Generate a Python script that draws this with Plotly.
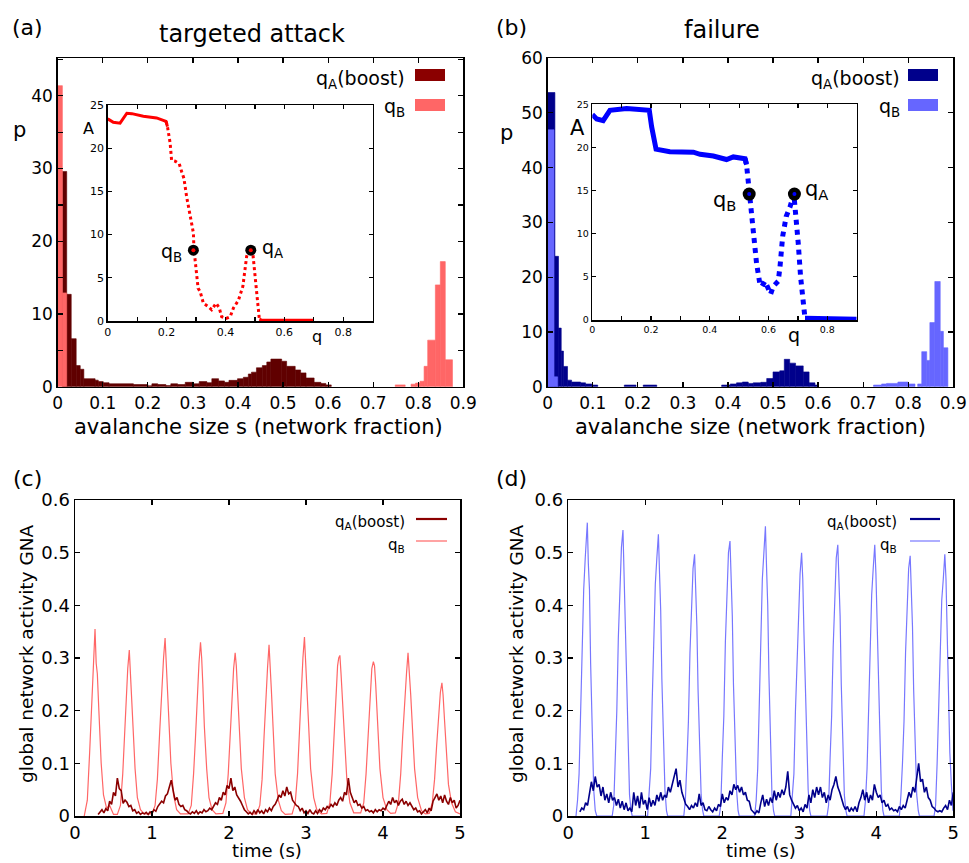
import plotly.graph_objects as go

FONT = "DejaVu Sans"
W, H = 969, 863          # figure = browser window

# ======================= DATA =======================
# (a) targeted attack - avalanche size histograms (bin edges in network fraction, density p)
a_boost_left  = [0.0104, 0.020, 0.030, 0.041, 0.050, 0.058, 0.083, 0.090, 0.101, 0.114, 0.168, 0.200, 0.209, 0.222,
                 0.240, 0.251, 0.266, 0.283, 0.301, 0.314, 0.331, 0.342, 0.357, 0.370, 0.380, 0.399, 0.412, 0.423,
                 0.430, 0.441, 0.454, 0.464, 0.473, 0.497, 0.508, 0.527, 0.539, 0.551, 0.569, 0.584, 0.595]
a_boost_right = [0.020, 0.030, 0.041, 0.050, 0.058, 0.083, 0.090, 0.101, 0.114, 0.168, 0.200, 0.209, 0.222, 0.240,
                 0.251, 0.266, 0.283, 0.301, 0.314, 0.331, 0.342, 0.357, 0.370, 0.380, 0.399, 0.412, 0.423, 0.430,
                 0.441, 0.454, 0.464, 0.473, 0.497, 0.508, 0.527, 0.539, 0.551, 0.569, 0.584, 0.595, 0.607]
a_boost_p     = [29.6, 12.7, 6.6, 2.9, 2.4, 1.1, 0.9, 0.7, 0.55, 0.4, 0.3, 0.12, 0.4, 0.3,
                 0.15, 0.4, 0.3, 0.6, 0.4, 0.7, 0.55, 1.1, 0.8, 0.6, 0.87, 1.1, 1.3, 1.75,
                 2.0, 2.6, 2.9, 3.4, 3.8, 3.5, 2.8, 2.3, 1.9, 1.2, 0.6, 0.45, 0.25]

a_qb_left  = [0.0, 0.0104, 0.749, 0.784, 0.794, 0.804, 0.813, 0.821, 0.838, 0.849, 0.860]
a_qb_right = [0.0104, 0.020, 0.771, 0.794, 0.804, 0.813, 0.821, 0.838, 0.849, 0.860, 0.876]
a_qb_p     = [41.4, 12.9, 0.25, 0.35, 0.5, 0.75, 2.8, 6.4, 14.0, 17.2, 3.7]

# (b) failure - avalanche size histograms
b_boost_left  = [0.0, 0.016, 0.024, 0.030, 0.035, 0.044, 0.053, 0.073, 0.084, 0.098, 0.170, 0.212,
                 0.386, 0.405, 0.419, 0.432, 0.445, 0.456, 0.473, 0.486, 0.500, 0.515, 0.525, 0.537,
                 0.550, 0.567, 0.580, 0.593]
b_boost_right = [0.016, 0.024, 0.030, 0.035, 0.044, 0.053, 0.073, 0.084, 0.098, 0.111, 0.196, 0.242,
                 0.405, 0.419, 0.432, 0.445, 0.456, 0.473, 0.486, 0.500, 0.515, 0.525, 0.537, 0.550,
                 0.567, 0.580, 0.593, 0.600]
b_boost_p     = [53.7, 23.8, 10.7, 6.5, 3.7, 1.2, 0.85, 0.7, 0.5, 0.3, 0.3, 0.3,
                 0.3, 0.5, 0.7, 0.85, 0.6, 0.7, 0.8, 1.5, 2.7, 2.9, 5.0, 4.3,
                 3.8, 2.7, 0.7, 0.3]

b_qb_left  = [0.0, 0.014, 0.723, 0.741, 0.752, 0.777, 0.800, 0.821, 0.830, 0.841, 0.848, 0.859, 0.871, 0.878]
b_qb_right = [0.014, 0.022, 0.741, 0.752, 0.777, 0.800, 0.815, 0.830, 0.841, 0.848, 0.859, 0.871, 0.878, 0.888]
b_qb_p     = [46.9, 1.8, 0.3, 0.5, 0.6, 0.85, 0.5, 0.5, 6.4, 4.8, 11.7, 19.2, 10.1, 7.1]

# insets: A versus q
a_inset_q = [0, 0.019, 0.042, 0.065, 0.082, 0.121, 0.166, 0.198, 0.203, 0.212, 0.217, 0.229, 0.243, 0.251,
             0.259, 0.268, 0.274, 0.282, 0.291, 0.293, 0.300, 0.307, 0.314, 0.325, 0.342, 0.353, 0.368, 0.379,
             0.387, 0.402, 0.416, 0.427, 0.444, 0.459, 0.472, 0.483, 0.493, 0.500, 0.508, 0.515, 0.523, 0.699]
a_inset_A = [23.4, 23.0, 22.9, 24.05, 24.0, 23.7, 23.5, 23.1, 22.5, 20.6, 18.6, 18.5, 18.2, 17.3,
             16.5, 14.4, 13.2, 12.1, 10.2, 8.3, 5.9, 3.8, 3.4, 2.05, 1.66, 1.3, 2.05, 1.5,
             0.5, 0.3, 0.5, 1.5, 2.4, 4.0, 7.5, 8.4, 7.8, 5.5, 2.8, 0.2, 0.1, 0.1]
a_mark_q = [0.291, 0.486]   # q_B, q_A
a_mark_A = [8.2, 8.2]

b_inset_q = [0, 0.015, 0.037, 0.060, 0.117, 0.194, 0.202, 0.217, 0.264, 0.344, 0.367, 0.412, 0.457, 0.480,
             0.520, 0.525, 0.535, 0.543, 0.550, 0.559, 0.571, 0.577, 0.588, 0.596, 0.607, 0.616, 0.633,
             0.639, 0.648, 0.660, 0.673, 0.686, 0.696, 0.701, 0.709, 0.716, 0.724, 0.900]
b_inset_A = [23.8, 23.3, 23.1, 24.3, 24.5, 24.3, 22.4, 19.8, 19.5, 19.45, 19.2, 19.0, 18.6, 18.9,
             18.7, 18.0, 14.7, 12.0, 9.3, 6.6, 4.05, 3.9, 4.5, 3.9, 3.0, 3.9, 4.5,
             6.2, 9.7, 12.0, 13.1, 14.6, 11.6, 8.9, 5.0, 1.9, 0.2, 0.1]
b_mark_q = [0.534, 0.688]
b_mark_A = [14.6, 14.6]

# (c) GNA time series, targeted attack
c_boost_t0, c_boost_dt = 0.30, 0.025
c_boost_gna = [
    0.003, 0.008, 0.012, 0.006, 0.014, 0.010, 0.028, 0.022, 0.045, 0.038, 0.072, 0.052, 0.048, 0.024, 0.030, 0.026, 0.018, 0.020, 0.010, 0.012,
    0.005, 0.008, 0.003, 0.006, 0.004, 0.007, 0.003, 0.008, 0.005, 0.012, 0.009, 0.018, 0.022, 0.028, 0.025, 0.038, 0.042, 0.055, 0.068, 0.048,
    0.030, 0.035, 0.022, 0.018, 0.020, 0.012, 0.010, 0.006, 0.004, 0.008, 0.005, 0.010, 0.004, 0.008, 0.006, 0.012, 0.008, 0.010, 0.015, 0.012,
    0.018, 0.025, 0.022, 0.035, 0.030, 0.045, 0.040, 0.058, 0.052, 0.072, 0.048, 0.055, 0.040, 0.035, 0.028, 0.020, 0.012, 0.008, 0.004, 0.007,
    0.003, 0.010, 0.005, 0.012, 0.006, 0.010, 0.004, 0.012, 0.008, 0.015, 0.010, 0.018, 0.022, 0.030, 0.040, 0.035, 0.048, 0.038, 0.055, 0.042,
    0.045, 0.030, 0.025, 0.020, 0.018, 0.010, 0.015, 0.006, 0.010, 0.005, 0.012, 0.006, 0.004, 0.010, 0.005, 0.012, 0.008, 0.015, 0.012, 0.018,
    0.015, 0.022, 0.018, 0.025, 0.020, 0.030, 0.035, 0.028, 0.045, 0.040, 0.072, 0.045, 0.035, 0.025, 0.030, 0.020, 0.022, 0.015, 0.018, 0.010,
    0.012, 0.008, 0.010, 0.006, 0.012, 0.008, 0.012, 0.010, 0.015, 0.012, 0.020, 0.028, 0.022, 0.035, 0.025, 0.030, 0.020, 0.028, 0.032, 0.022,
    0.028, 0.020, 0.025, 0.018, 0.012, 0.015, 0.008, 0.010, 0.004, 0.008, 0.012, 0.006, 0.015, 0.010, 0.028, 0.035, 0.042, 0.030, 0.038, 0.025,
    0.040, 0.028, 0.022, 0.035, 0.025, 0.030, 0.015, 0.020, 0.030]
c_qb_t = [
    0.12, 0.16, 0.19, 0.21, 0.23, 0.245, 0.26, 0.275, 0.29, 0.31, 0.34, 0.37, 0.41, 0.45, 0.50,
    0.55, 0.59, 0.62, 0.645, 0.665, 0.685, 0.705, 0.72, 0.735, 0.755, 0.78, 0.81, 0.85, 0.90,
    1.00, 1.04, 1.07, 1.10, 1.125, 1.15, 1.17, 1.185, 1.20, 1.22, 1.245, 1.28, 1.32, 1.37,
    1.47, 1.51, 1.54, 1.565, 1.59, 1.61, 1.63, 1.645, 1.66, 1.68, 1.71, 1.74, 1.78, 1.83,
    1.92, 1.96, 1.99, 2.015, 2.04, 2.06, 2.08, 2.095, 2.11, 2.135, 2.16, 2.20, 2.24, 2.29,
    2.36, 2.40, 2.43, 2.455, 2.48, 2.50, 2.52, 2.535, 2.55, 2.575, 2.60, 2.64, 2.68, 2.73,
    2.82, 2.86, 2.89, 2.915, 2.94, 2.96, 2.98, 2.995, 3.01, 3.035, 3.06, 3.10, 3.14, 3.20,
    3.27, 3.31, 3.34, 3.365, 3.39, 3.41, 3.425, 3.44, 3.455, 3.475, 3.50, 3.53, 3.57, 3.62,
    3.71, 3.75, 3.78, 3.805, 3.83, 3.855, 3.875, 3.89, 3.905, 3.93, 3.96, 4.00, 4.05, 4.10,
    4.16, 4.20, 4.23, 4.255, 4.28, 4.305, 4.325, 4.34, 4.36, 4.385, 4.41, 4.45, 4.50, 4.55,
    4.60, 4.64, 4.67, 4.695, 4.72, 4.745, 4.765, 4.78, 4.80, 4.825, 4.85, 4.89, 4.94, 5.00]
c_qb_gna = [
    0.000, 0.030, 0.120, 0.190, 0.270, 0.310, 0.355, 0.290, 0.270, 0.200, 0.100, 0.040, 0.015, 0.020, 0.003,
    0.003, 0.020, 0.080, 0.170, 0.230, 0.280, 0.315, 0.270, 0.240, 0.170, 0.090, 0.035, 0.012, 0.004,
    0.004, 0.020, 0.070, 0.160, 0.240, 0.300, 0.338, 0.290, 0.260, 0.180, 0.100, 0.040, 0.012, 0.004,
    0.004, 0.020, 0.080, 0.150, 0.240, 0.290, 0.330, 0.300, 0.250, 0.170, 0.090, 0.035, 0.012, 0.004,
    0.005, 0.025, 0.080, 0.160, 0.240, 0.280, 0.310, 0.285, 0.240, 0.170, 0.090, 0.035, 0.012, 0.004,
    0.004, 0.020, 0.070, 0.150, 0.230, 0.280, 0.325, 0.290, 0.240, 0.160, 0.080, 0.030, 0.010, 0.003,
    0.004, 0.025, 0.080, 0.160, 0.250, 0.300, 0.340, 0.300, 0.250, 0.170, 0.090, 0.035, 0.012, 0.004,
    0.005, 0.025, 0.080, 0.150, 0.230, 0.285, 0.300, 0.305, 0.270, 0.220, 0.140, 0.070, 0.025, 0.006,
    0.006, 0.025, 0.080, 0.150, 0.220, 0.280, 0.293, 0.285, 0.250, 0.170, 0.090, 0.035, 0.012, 0.005,
    0.006, 0.025, 0.080, 0.150, 0.220, 0.270, 0.310, 0.280, 0.230, 0.160, 0.090, 0.035, 0.010, 0.004,
    0.005, 0.025, 0.070, 0.130, 0.190, 0.235, 0.253, 0.230, 0.180, 0.120, 0.060, 0.025, 0.008, 0.004]

# (d) GNA time series, failure
d_boost_t0, d_boost_dt = 0.15, 0.025
d_boost_gna = [
    0.008, 0.015, 0.012, 0.025, 0.020, 0.045, 0.065, 0.048, 0.075, 0.055, 0.060, 0.038, 0.055, 0.030, 0.042, 0.025, 0.045, 0.030, 0.035, 0.020,
    0.032, 0.015, 0.028, 0.012, 0.025, 0.010, 0.015, 0.008, 0.045, 0.020, 0.038, 0.015, 0.045, 0.022, 0.030, 0.012, 0.035, 0.018, 0.030, 0.020,
    0.040, 0.028, 0.045, 0.030, 0.040, 0.035, 0.055, 0.045, 0.060, 0.070, 0.090, 0.055, 0.068, 0.045, 0.035, 0.022, 0.018, 0.012, 0.020, 0.015,
    0.025, 0.018, 0.042, 0.020, 0.025, 0.012, 0.010, 0.018, 0.012, 0.008, 0.015, 0.010, 0.022, 0.018, 0.042, 0.025, 0.035, 0.030, 0.048, 0.040,
    0.060, 0.050, 0.058, 0.045, 0.055, 0.040, 0.045, 0.030, 0.028, 0.012, 0.008, 0.004, 0.010, 0.006, 0.025, 0.040, 0.018, 0.032, 0.020, 0.035,
    0.025, 0.048, 0.030, 0.045, 0.035, 0.050, 0.040, 0.055, 0.085, 0.040, 0.030, 0.022, 0.015, 0.020, 0.010, 0.015, 0.008, 0.022, 0.015, 0.040,
    0.025, 0.050, 0.035, 0.055, 0.040, 0.055, 0.035, 0.045, 0.025, 0.040, 0.030, 0.050, 0.060, 0.075, 0.055, 0.045, 0.030, 0.020, 0.012, 0.018,
    0.008, 0.015, 0.010, 0.018, 0.008, 0.025, 0.035, 0.050, 0.030, 0.045, 0.025, 0.040, 0.030, 0.060, 0.045, 0.035, 0.040, 0.025, 0.030, 0.018,
    0.022, 0.012, 0.015, 0.010, 0.012, 0.008, 0.018, 0.012, 0.020, 0.015, 0.030, 0.045, 0.035, 0.055, 0.045, 0.075, 0.100, 0.065, 0.070, 0.045,
    0.055, 0.035, 0.030, 0.018, 0.015, 0.010, 0.008, 0.010, 0.008, 0.015, 0.020, 0.012, 0.030, 0.020, 0.045]
d_qb_t = [
    0.10, 0.12, 0.14, 0.16, 0.18, 0.20, 0.22, 0.235, 0.247, 0.26, 0.275, 0.29, 0.31, 0.33, 0.35, 0.37,
    0.57, 0.59, 0.61, 0.63, 0.65, 0.67, 0.69, 0.71, 0.725, 0.74, 0.755, 0.775, 0.795, 0.815, 0.83,
    1.03, 1.05, 1.07, 1.09, 1.11, 1.13, 1.15, 1.17, 1.185, 1.20, 1.215, 1.235, 1.255, 1.275, 1.29,
    1.50, 1.52, 1.54, 1.56, 1.58, 1.60, 1.62, 1.64, 1.655, 1.67, 1.685, 1.705, 1.725, 1.745, 1.76,
    1.96, 1.98, 2.00, 2.02, 2.04, 2.06, 2.08, 2.10, 2.115, 2.13, 2.145, 2.165, 2.185, 2.205, 2.22,
    2.42, 2.44, 2.46, 2.48, 2.50, 2.52, 2.54, 2.56, 2.575, 2.59, 2.605, 2.625, 2.645, 2.665, 2.68,
    2.89, 2.91, 2.93, 2.95, 2.97, 2.99, 3.01, 3.03, 3.045, 3.06, 3.075, 3.095, 3.115, 3.135, 3.15,
    3.36, 3.38, 3.40, 3.42, 3.44, 3.46, 3.48, 3.50, 3.515, 3.53, 3.545, 3.565, 3.585, 3.605, 3.62,
    3.84, 3.86, 3.88, 3.90, 3.92, 3.94, 3.96, 3.98, 3.995, 4.01, 4.025, 4.045, 4.065, 4.085, 4.10,
    4.30, 4.32, 4.34, 4.36, 4.38, 4.40, 4.42, 4.44, 4.455, 4.47, 4.485, 4.505, 4.525, 4.545, 4.56,
    4.75, 4.77, 4.79, 4.81, 4.83, 4.85, 4.87, 4.89, 4.905, 4.92, 4.935, 4.955, 4.975, 4.995]
d_qb_gna = [
    0.00, 0.03, 0.08, 0.21, 0.30, 0.43, 0.49, 0.545, 0.557, 0.48, 0.43, 0.29, 0.17, 0.05, 0.01, 0.00,
    0.00, 0.02, 0.11, 0.20, 0.34, 0.41, 0.51, 0.543, 0.46, 0.39, 0.26, 0.15, 0.04, 0.01, 0.00,
    0.00, 0.04, 0.09, 0.22, 0.32, 0.44, 0.49, 0.535, 0.46, 0.39, 0.26, 0.15, 0.05, 0.01, 0.00,
    0.00, 0.03, 0.10, 0.18, 0.31, 0.39, 0.47, 0.497, 0.43, 0.36, 0.24, 0.14, 0.04, 0.01, 0.00,
    0.00, 0.02, 0.11, 0.19, 0.33, 0.41, 0.50, 0.522, 0.45, 0.38, 0.25, 0.15, 0.05, 0.01, 0.00,
    0.00, 0.03, 0.09, 0.22, 0.32, 0.45, 0.50, 0.550, 0.47, 0.40, 0.27, 0.15, 0.04, 0.01, 0.00,
    0.00, 0.04, 0.08, 0.20, 0.29, 0.41, 0.46, 0.500, 0.45, 0.35, 0.26, 0.12, 0.05, 0.01, 0.00,
    0.00, 0.02, 0.11, 0.19, 0.32, 0.40, 0.49, 0.515, 0.44, 0.38, 0.25, 0.14, 0.04, 0.01, 0.00,
    0.00, 0.03, 0.09, 0.21, 0.30, 0.42, 0.47, 0.515, 0.46, 0.36, 0.27, 0.12, 0.05, 0.01, 0.00,
    0.00, 0.04, 0.10, 0.18, 0.31, 0.39, 0.47, 0.494, 0.43, 0.36, 0.24, 0.14, 0.04, 0.01, 0.00,
    0.00, 0.02, 0.10, 0.20, 0.29, 0.41, 0.45, 0.497, 0.45, 0.34, 0.26, 0.12, 0.06, 0.01]

# ======================= STYLE =======================
RED_DARK_BAR, RED_DARK_LEG, RED_LIGHT = "#600000", "#8b0000", "#ff6666"
BLUE_DARK, BLUE_LIGHT, BLUE_LINE = "#00008b", "#6666ff", "#7777ff"


def px(x):   # window pixel -> paper fraction
    return x / W


def py(y):
    return 1 - y / H


def bars(left, right, p, color, xa, ya):
    return go.Bar(x=[(l + r) / 2 for l, r in zip(left, right)], y=p,
                  width=[r - l for l, r in zip(left, right)],
                  marker=dict(color=color, line=dict(color=color, width=0.6)),
                  xaxis=xa, yaxis=ya, showlegend=False, hoverinfo="skip")


def part(qs, vals, lo, hi):
    idx = [i for i, q in enumerate(qs) if lo <= q <= hi]
    return [qs[i] for i in idx], [vals[i] for i in idx]


def grid(t0, dt, n):
    return [round(t0 + dt * i, 4) for i in range(n)]


fig = go.Figure()

# histograms
fig.add_trace(bars(a_boost_left, a_boost_right, a_boost_p, RED_DARK_BAR, "x", "y"))
fig.add_trace(bars(a_qb_left, a_qb_right, a_qb_p, RED_LIGHT, "x", "y"))
fig.add_trace(bars(b_boost_left, b_boost_right, b_boost_p, BLUE_DARK, "x2", "y2"))
fig.add_trace(bars(b_qb_left, b_qb_right, b_qb_p, BLUE_LIGHT, "x2", "y2"))

# insets
for qs, As, color, w, split, xa, ya, mq, mA, msize in [
        (a_inset_q, a_inset_A, "#ff0000", 3, (0.203, 0.515), "x3", "y3", a_mark_q, a_mark_A, 11),
        (b_inset_q, b_inset_A, "#0000ff", 5, (0.525, 0.724), "x4", "y4", b_mark_q, b_mark_A, 13)]:
    s1 = part(qs, As, -1, split[0])
    dd = part(qs, As, split[0] - 0.006, split[1] + 0.001)
    s2 = part(qs, As, split[1], 2)
    for (xx, yy), dash in [(s1, "solid"), (dd, "dot"), (s2, "solid")]:
        fig.add_trace(go.Scatter(x=xx, y=yy, mode="lines", line=dict(color=color, width=w, dash=dash),
                                 xaxis=xa, yaxis=ya, showlegend=False, hoverinfo="skip"))
    fig.add_trace(go.Scatter(x=mq, y=mA, mode="markers", marker=dict(color="black", size=msize),
                             xaxis=xa, yaxis=ya, showlegend=False, hoverinfo="skip"))
    fig.add_trace(go.Scatter(x=mq, y=mA, mode="markers", marker=dict(color=color, size=4),
                             xaxis=xa, yaxis=ya, showlegend=False, hoverinfo="skip"))

# time series
fig.add_trace(go.Scatter(x=c_qb_t, y=c_qb_gna, mode="lines", line=dict(color=RED_LIGHT, width=1.2),
                         xaxis="x5", yaxis="y5", showlegend=False))
fig.add_trace(go.Scatter(x=grid(c_boost_t0, c_boost_dt, len(c_boost_gna)), y=c_boost_gna, mode="lines",
                         line=dict(color=RED_DARK_LEG, width=1.6), xaxis="x5", yaxis="y5", showlegend=False))
fig.add_trace(go.Scatter(x=d_qb_t, y=d_qb_gna, mode="lines", line=dict(color=BLUE_LINE, width=1.2),
                         xaxis="x6", yaxis="y6", showlegend=False))
fig.add_trace(go.Scatter(x=grid(d_boost_t0, d_boost_dt, len(d_boost_gna)), y=d_boost_gna, mode="lines",
                         line=dict(color=BLUE_DARK, width=1.6), xaxis="x6", yaxis="y6", showlegend=False))


def axis(domain, rng, anchor, size, **kw):
    d = dict(domain=domain, range=rng, anchor=anchor, showline=True, linecolor="black", linewidth=1.5,
             mirror="ticks", ticks="inside", ticklen=5, tickwidth=1.2, tickcolor="black",
             showgrid=False, zeroline=False, fixedrange=True, automargin=False,
             tickfont=dict(family=FONT, size=size, color="black"))
    d.update(kw)
    return d


def minor(dt, ln=5):
    return dict(dtick=dt, tick0=0, ticks="inside", ticklen=ln, tickwidth=1.2, tickcolor="black", showgrid=False)


layout = dict(
    template="none",
    width=W, height=H, margin=dict(l=0, r=0, t=0, b=0, pad=0), autosize=False,
    paper_bgcolor="white", plot_bgcolor="rgba(0,0,0,0)", barmode="overlay", showlegend=False,
    hovermode=False,
    xaxis=axis([px(57.7), px(463.3)], [0, 0.9], "y", 17, dtick=0.1, tick0=0),
    yaxis=axis([py(386.7), py(58)], [0, 45.2], "x", 17, tickvals=[0, 10, 20, 30, 40], minor=minor(5)),
    xaxis2=axis([px(547.7), px(953.3)], [0, 0.9], "y2", 17, dtick=0.1, tick0=0),
    yaxis2=axis([py(386.7), py(58)], [0, 60], "x2", 17, dtick=10, tick0=0),
    xaxis3=axis([px(107.7), px(372.7)], [0, 0.9], "y3", 11, tickvals=[0, 0.2, 0.4, 0.6, 0.8],
                minor=minor(0.1, 4), ticklen=4),
    yaxis3=axis([py(321), py(105)], [0, 25], "x3", 11, dtick=5, tick0=0, ticklen=4),
    xaxis4=axis([px(592.3), px(856.7)], [0, 0.9], "y4", 9.5, tickvals=[0, 0.2, 0.4, 0.6, 0.8],
                minor=minor(0.1, 4), ticklen=4),
    yaxis4=axis([py(320), py(104.3)], [0, 25], "x4", 9.5, dtick=5, tick0=0, ticklen=4),
    xaxis5=axis([px(75), px(460)], [0, 5], "y5", 18, dtick=1, tick0=0),
    yaxis5=axis([py(816), py(500)], [0, 0.6], "x5", 18, dtick=0.1, tick0=0),
    xaxis6=axis([px(568.3), px(953.3)], [0, 5], "y6", 18, dtick=1, tick0=0),
    yaxis6=axis([py(816), py(500)], [0, 0.6], "x6", 18, dtick=0.1, tick0=0),
)
fig.update_layout(**layout)

ann = []


def text(t, x, y, size, xanchor="center", yanchor="middle", angle=0):
    ann.append(dict(text=t, x=px(x), y=py(y), xref="paper", yref="paper", xanchor=xanchor, yanchor=yanchor,
                    showarrow=False, textangle=angle, font=dict(family=FONT, size=size, color="black")))


# panel letters & titles
text("(a)", 27, 28, 22)
text("(b)", 511, 28, 22)
text("(c)", 27, 478, 22)
text("(d)", 511, 478, 22)
text("targeted attack", 252, 34, 24)
text("failure", 722, 30, 24)
# axis titles
text("p", 19, 130, 21)
text("p", 506, 133, 21)
text("avalanche size s (network fraction)", 258, 427, 21)
text("avalanche size (network fraction)", 750, 427, 21)
text("time (s)", 267, 850, 18)
text("time (s)", 761, 850, 18)
text("global network activity GNA", 26, 654, 18.5, angle=-90)
text("global network activity GNA", 516, 654, 18.5, angle=-90)
# inset labels
text("A", 88, 128, 16)
text("q", 317, 336, 16)
text("q<sub>B</sub>", 184, 253, 19, xanchor="right")
text("q<sub>A</sub>", 260, 249, 19, xanchor="left")
text("A", 577, 128, 21)
text("q", 794, 335, 19)
text("q<sub>B</sub>", 738, 201, 21, xanchor="right")
text("q<sub>A</sub>", 803, 190, 21, xanchor="left")
# legends (a) (b)
text("q<sub>A</sub>(boost)", 407, 79, 19, xanchor="right")
text("q<sub>B</sub>", 407, 108, 19, xanchor="right")
text("q<sub>A</sub>(boost)", 902, 79, 19, xanchor="right")
text("q<sub>B</sub>", 902, 108, 19, xanchor="right")
# legends (c) (d)
text("q<sub>A</sub>(boost)", 407, 522, 15, xanchor="right")
text("q<sub>B</sub>", 407, 545, 15, xanchor="right")
text("q<sub>A</sub>(boost)", 899, 522, 15, xanchor="right")
text("q<sub>B</sub>", 899, 545, 15, xanchor="right")

shapes = []


def rect(x0, x1, y0, y1, color):
    shapes.append(dict(type="rect", xref="paper", yref="paper", x0=px(x0), x1=px(x1), y0=py(y1), y1=py(y0),
                       fillcolor=color, line=dict(width=0)))


def hline(x0, x1, y, color, w):
    shapes.append(dict(type="line", xref="paper", yref="paper", x0=px(x0), x1=px(x1), y0=py(y), y1=py(y),
                       line=dict(color=color, width=w)))


rect(415, 445, 69, 81, RED_DARK_LEG)
rect(415, 445, 99, 111, RED_LIGHT)
rect(908, 938, 69, 81, BLUE_DARK)
rect(908, 938, 99, 111, BLUE_LIGHT)
hline(416, 447, 519, RED_DARK_LEG, 2.2)
hline(416, 447, 541, RED_LIGHT, 1.2)
hline(910, 940, 519, BLUE_DARK, 2.2)
hline(910, 940, 541, BLUE_LINE, 1.2)

fig.update_layout(annotations=ann, shapes=shapes)
# let the figure fill the window exactly (remove the page's default body margin)
fig.write_html("out.html", config={"displayModeBar": False, "staticPlot": True},
               post_script="document.body.style.margin='0px';document.body.style.overflow='hidden';")
